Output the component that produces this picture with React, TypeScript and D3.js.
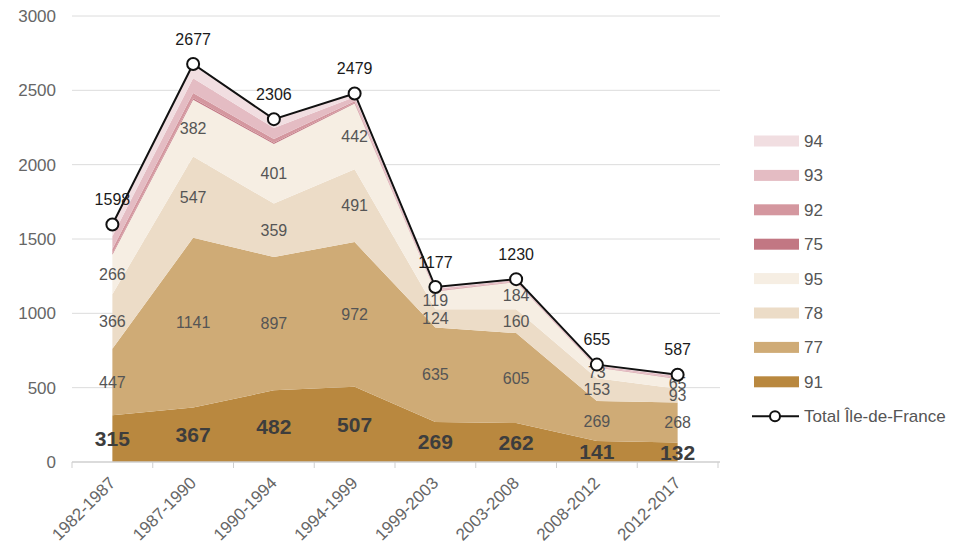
import { FC } from 'react';
import * as d3 from 'd3';

// periods on the x axis
const periods = ['1982-1987', '1987-1990', '1990-1994', '1994-1999', '1999-2003', '2003-2008', '2008-2012', '2012-2017'];

// departments, bottom of the stack first
const v91 = [315, 367, 482, 507, 269, 262, 141, 132];
const v77 = [447, 1141, 897, 972, 635, 605, 269, 268];
const v78 = [366, 547, 359, 491, 124, 160, 153, 93];
const v95 = [266, 382, 401, 442, 119, 184, 73, 65];
const v75 = [8, 10, 8, 4, 2, 1, 1, 2];
const v92 = [30, 35, 25, 10, 5, 3, 3, 4];
const v93 = [86, 100, 74, 30, 12, 8, 8, 12];
const v94 = [80, 95, 60, 23, 11, 7, 7, 11];
const totals = [1598, 2677, 2306, 2479, 1177, 1230, 655, 587];

const yTicks = [0, 500, 1000, 1500, 2000, 2500, 3000];

const stackKeys = ['91', '77', '78', '95', '75', '92', '93', '94'];
const legendKeys = ['94', '93', '92', '75', '95', '78', '77', '91'];
const labelled = ['91', '77', '78', '95'];

const colors: Record<string, string> = {
  '91': '#b9883f',
  '77': '#cfab76',
  '78': '#ecdcc7',
  '95': '#f6eee3',
  '75': '#c27783',
  '92': '#d4979f',
  '93': '#e4bcc3',
  '94': '#f1dee1',
};

const series: Record<string, number[]> = { '91': v91, '77': v77, '78': v78, '95': v95, '75': v75, '92': v92, '93': v93, '94': v94 };

type Row = { period: string; [k: string]: number | string };

const rows: Row[] = periods.map((p, i) => {
  const r: Row = { period: p };
  stackKeys.forEach(k => { r[k] = series[k][i]; });
  return r;
});

const App: FC = () => {
  const width = 961, height = 550;

  const xBand = d3.scaleBand<string>().domain(periods).range([72, 718]).paddingInner(0).paddingOuter(0);
  const bw = xBand.bandwidth();
  const xc = (p: string) => (xBand(p) as number) + bw / 2;

  const y = d3.scaleLinear().domain([0, 3000]).range([462, 16]);

  const stacked = d3.stack<Row>().keys(stackKeys).value((d, k) => d[k] as number)(rows);

  const area = d3.area<d3.SeriesPoint<Row>>()
    .x(d => xc(d.data.period))
    .y0(d => y(d[0]))
    .y1(d => y(d[1]));

  const line = d3.line<number>()
    .x((_, i) => xc(periods[i]))
    .y(d => y(d));

  const font = '"Liberation Sans", Arial, sans-serif';
  const boundaries = periods.map(p => xBand(p) as number).concat([718]);

  return (
    <svg width={width} height={height} style={{ position: 'absolute', left: 0, top: 0, background: '#fff' }} fontFamily={font}>
      {/* grid */}
      {yTicks.map(t => (
        <g key={t}>
          {t > 0 && <line x1={72} x2={720} y1={y(t)} y2={y(t)} stroke="#dcdcdc" strokeWidth={1} />}
          <text x={56} y={y(t)} dy="0.35em" textAnchor="end" fontSize={17} fill="#666">{t}</text>
        </g>
      ))}

      {/* stacked areas */}
      {stacked.map(s => (
        <path key={s.key} d={area(s) || ''} fill={colors[s.key]} />
      ))}

      {/* x axis */}
      <line x1={72} x2={720} y1={y(0)} y2={y(0)} stroke="#cfcfcf" strokeWidth={1.5} />
      {boundaries.map((b, i) => (
        <line key={i} x1={b} x2={b} y1={y(0)} y2={y(0) + 6} stroke="#cfcfcf" strokeWidth={1} />
      ))}
      {periods.map(p => (
        <text key={p} transform={`translate(${xc(p) + 4},${y(0) + 22}) rotate(-45)`} textAnchor="end" fontSize={17} fill="#666">{p}</text>
      ))}

      {/* layer labels */}
      {stacked.filter(s => labelled.includes(s.key)).map(s => (
        <g key={'l' + s.key}>
          {s.map((d, i) => (
            <text key={i} x={xc(d.data.period)} y={y((d[0] + d[1]) / 2)} dy="0.35em" textAnchor="middle"
              fontSize={s.key === '91' ? 21 : 16} fontWeight={s.key === '91' ? 'bold' : 'normal'}
              fill={s.key === '91' ? '#3d3d3d' : '#555'}>{d.data[s.key] as number}</text>
          ))}
        </g>
      ))}

      {/* total line */}
      <path d={line(totals) || ''} fill="none" stroke="#111" strokeWidth={2} />
      {totals.map((t, i) => (
        <g key={'t' + i}>
          <circle cx={xc(periods[i])} cy={y(t)} r={6} fill="#fff" stroke="#111" strokeWidth={2} />
          <text x={xc(periods[i])} y={y(t) - 25} dy="0.35em" textAnchor="middle" fontSize={16} fill="#1a1a1a">{t}</text>
        </g>
      ))}

      {/* legend */}
      {legendKeys.map((k, i) => (
        <g key={'lg' + k} transform={`translate(754,${141 + i * 34.4})`}>
          <rect x={0} y={-5.5} width={45} height={11} fill={colors[k]} />
          <text x={50} y={0} dy="0.35em" fontSize={17} fill="#555">{k}</text>
        </g>
      ))}
      <g transform={`translate(754,${141 + 8 * 34.4})`}>
        <line x1={-2} x2={45} y1={0} y2={0} stroke="#111" strokeWidth={2} />
        <circle cx={21} cy={0} r={5} fill="#fff" stroke="#111" strokeWidth={2} />
        <text x={50} y={0} dy="0.35em" fontSize={17} fill="#555">Total Île-de-France</text>
      </g>
    </svg>
  );
};

export default App;
